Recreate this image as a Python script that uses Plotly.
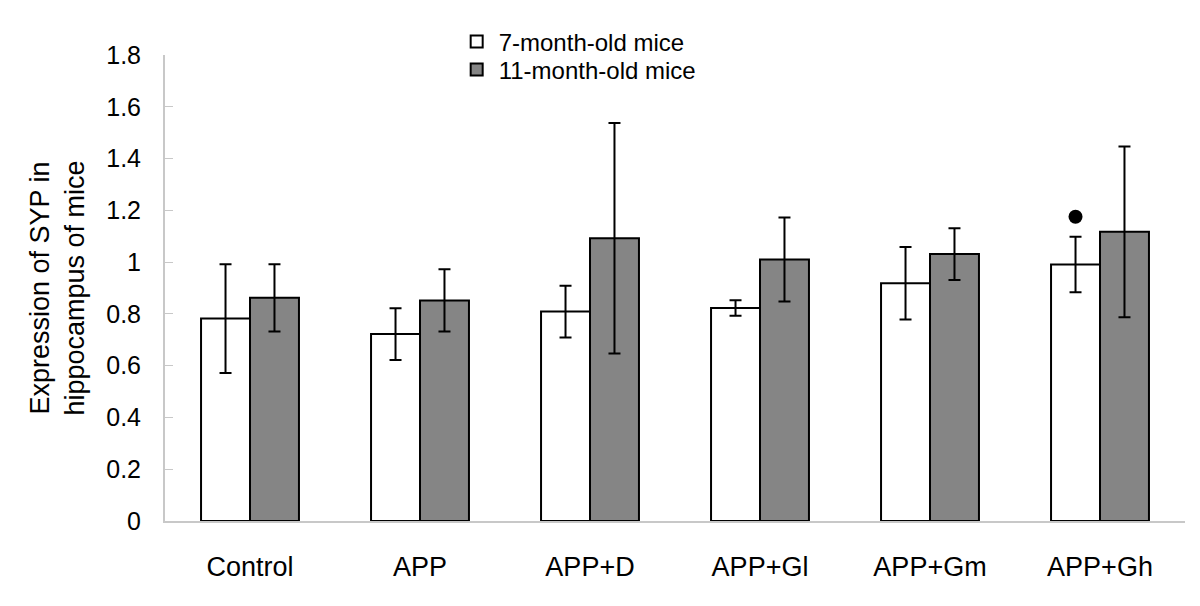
import plotly.graph_objects as go

categories = ["Control", "APP", "APP+D", "APP+Gl", "APP+Gm", "APP+Gh"]
mice7 = [0.782, 0.722, 0.809, 0.823, 0.918, 0.991]
mice7_err = [0.21, 0.10, 0.10, 0.03, 0.14, 0.107]
mice11 = [0.862, 0.852, 1.092, 1.010, 1.031, 1.117]
mice11_err = [0.13, 0.12, 0.445, 0.162, 0.10, 0.33]
dot_category = 5
dot_value = 1.175
y_ticks = [0, 0.2, 0.4, 0.6, 0.8, 1.0, 1.2, 1.4, 1.6, 1.8]

xs = list(range(len(categories)))
bw = 0.288

fig = go.Figure()
fig.add_trace(go.Bar(
    x=xs, y=mice7, width=bw, offset=-bw, name="7-month-old mice", legend="legend",
    marker=dict(color="white", line=dict(color="black", width=2)),
    error_y=dict(type="data", array=mice7_err, visible=True, color="black", thickness=2, width=6),
))
fig.add_trace(go.Bar(
    x=xs, y=mice11, width=bw, offset=0, name="11-month-old mice", legend="legend2",
    marker=dict(color="#858585", line=dict(color="black", width=2)),
    error_y=dict(type="data", array=mice11_err, visible=True, color="black", thickness=2, width=6),
))
fig.add_trace(go.Scatter(
    x=[dot_category - bw / 2], y=[dot_value], mode="markers",
    marker=dict(color="black", size=14), showlegend=False, hoverinfo="skip",
))

leg_common = dict(xanchor="left", yanchor="middle", font=dict(size=24),
                  bgcolor="rgba(0,0,0,0)", itemwidth=34)

fig.update_layout(
    width=1200, height=606,
    margin=dict(l=157, r=23, t=47, b=93, autoexpand=False),
    paper_bgcolor="white", plot_bgcolor="white",
    font=dict(family="Liberation Sans, Arial, sans-serif", size=24, color="black"),
    barmode="overlay",
    legend=dict(x=0.284, y=1.028, **leg_common),
    legend2=dict(x=0.284, y=0.968, **leg_common),
    xaxis=dict(
        range=[-0.5, 5.5], tickmode="array", tickvals=xs, ticktext=categories,
        showline=True, linecolor="#c8c8c8", linewidth=2, ticks="",
        showgrid=False, zeroline=False, ticklabelstandoff=21,
        tickfont=dict(size=27), automargin=False,
    ),
    yaxis=dict(
        range=[0, 1.8], tickmode="array", tickvals=y_ticks,
        ticktext=[f"{v:g}" for v in y_ticks],
        showline=True, linecolor="#c8c8c8", linewidth=2,
        ticks="inside", ticklen=8, tickcolor="#c8c8c8", tickwidth=1,
        showgrid=False, zeroline=False, ticklabelstandoff=17,
        tickfont=dict(size=25), automargin=False,
        title=dict(text="Expression of SYP in<br>hippocampus of mice", standoff=14,
                   font=dict(size=27)),
    ),
)

fig.write_html("out.html")
